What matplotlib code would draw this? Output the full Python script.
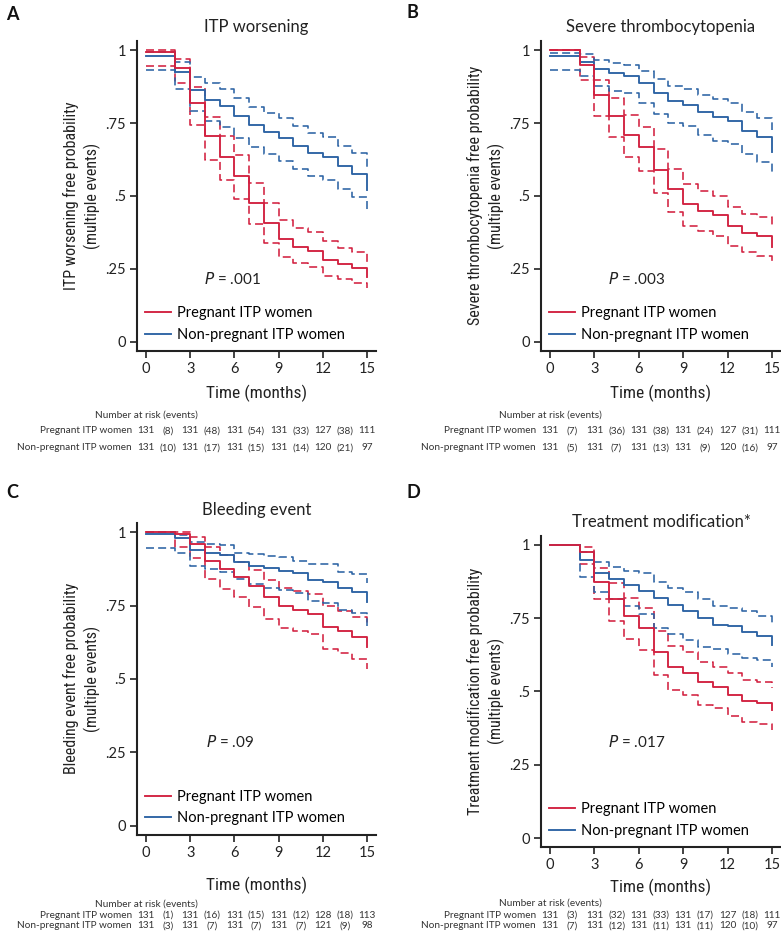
import matplotlib
matplotlib.use("Agg")
import matplotlib.pyplot as plt
import matplotlib.font_manager as fm
from matplotlib.transforms import blended_transform_factory
from matplotlib.lines import Line2D

# ---------------- data ----------------
times = [0, 2, 3, 4, 5, 6, 7, 8, 9, 10, 11, 12, 13, 14, 15]
x_ticks = [0, 3, 6, 9, 12, 15]
y_ticks = [0, 0.25, 0.5, 0.75, 1]
y_tick_labels = ["0", ".25", ".5", ".75", "1"]
groups = ["Pregnant ITP women", "Non-pregnant ITP women"]

# Panel A: ITP worsening
a_preg = [0.993, 0.94, 0.82, 0.705, 0.635, 0.568, 0.475, 0.407, 0.354, 0.326, 0.313, 0.281, 0.267, 0.252, 0.223]
a_preg_hi = [1.0, 0.97, 0.872, 0.772, 0.705, 0.64, 0.546, 0.475, 0.418, 0.389, 0.376, 0.347, 0.321, 0.307, 0.275]
a_preg_lo = [0.946, 0.886, 0.743, 0.623, 0.555, 0.489, 0.403, 0.338, 0.292, 0.269, 0.258, 0.227, 0.215, 0.203, 0.184]
a_non = [0.979, 0.926, 0.863, 0.829, 0.808, 0.774, 0.743, 0.72, 0.70, 0.672, 0.646, 0.635, 0.604, 0.575, 0.521]
a_non_hi = [0.995, 0.96, 0.909, 0.886, 0.865, 0.834, 0.806, 0.785, 0.766, 0.74, 0.717, 0.703, 0.672, 0.648, 0.595]
a_non_lo = [0.932, 0.865, 0.792, 0.758, 0.737, 0.698, 0.669, 0.644, 0.621, 0.591, 0.568, 0.555, 0.523, 0.496, 0.443]
a_risk_preg = ["131", "(8)", "131", "(48)", "131", "(54)", "131", "(33)", "127", "(38)", "111"]
a_risk_non = ["131", "(10)", "131", "(17)", "131", "(15)", "131", "(14)", "120", "(21)", "97"]

# Panel B: Severe thrombocytopenia
b_preg = [1.0, 0.949, 0.846, 0.774, 0.709, 0.667, 0.589, 0.523, 0.473, 0.45, 0.435, 0.397, 0.374, 0.363, 0.326]
b_preg_hi = [1.0, 0.975, 0.897, 0.834, 0.777, 0.735, 0.661, 0.592, 0.541, 0.518, 0.501, 0.463, 0.438, 0.427, 0.389]
b_preg_lo = [1.0, 0.897, 0.775, 0.701, 0.633, 0.587, 0.511, 0.446, 0.398, 0.381, 0.364, 0.33, 0.307, 0.296, 0.264]
b_non = [0.979, 0.96, 0.935, 0.922, 0.912, 0.886, 0.852, 0.826, 0.812, 0.789, 0.769, 0.758, 0.724, 0.701, 0.652]
b_non_hi = [0.991, 0.986, 0.966, 0.957, 0.949, 0.929, 0.9, 0.877, 0.865, 0.845, 0.831, 0.82, 0.789, 0.766, 0.726]
b_non_lo = [0.932, 0.911, 0.877, 0.861, 0.852, 0.82, 0.781, 0.751, 0.74, 0.709, 0.688, 0.678, 0.644, 0.617, 0.572]
b_risk_preg = ["131", "(7)", "131", "(36)", "131", "(38)", "131", "(24)", "127", "(31)", "111"]
b_risk_non = ["131", "(5)", "131", "(7)", "131", "(13)", "131", "(9)", "120", "(16)", "97"]

# Panel C: Bleeding event
c_preg = [1.0, 0.995, 0.961, 0.903, 0.874, 0.848, 0.818, 0.778, 0.747, 0.736, 0.723, 0.676, 0.665, 0.642, 0.609]
c_preg_hi = [1.0, 1.0, 0.985, 0.951, 0.923, 0.898, 0.872, 0.837, 0.809, 0.801, 0.79, 0.749, 0.733, 0.712, 0.68]
c_preg_lo = [1.0, 0.95, 0.911, 0.841, 0.807, 0.781, 0.744, 0.705, 0.673, 0.664, 0.652, 0.601, 0.588, 0.567, 0.533]
c_non = [0.993, 0.98, 0.94, 0.931, 0.923, 0.898, 0.885, 0.877, 0.869, 0.86, 0.838, 0.832, 0.809, 0.798, 0.764]
c_non_hi = [1.0, 0.99, 0.968, 0.96, 0.957, 0.931, 0.925, 0.92, 0.917, 0.903, 0.891, 0.891, 0.864, 0.858, 0.828]
c_non_lo = [0.948, 0.931, 0.885, 0.874, 0.866, 0.84, 0.824, 0.811, 0.803, 0.792, 0.766, 0.758, 0.735, 0.724, 0.681]
c_risk_preg = ["131", "(1)", "131", "(16)", "131", "(15)", "131", "(12)", "128", "(18)", "113"]
c_risk_non = ["131", "(3)", "131", "(7)", "131", "(7)", "131", "(7)", "121", "(9)", "98"]

# Panel D: Treatment modification
d_preg = [1.0, 0.977, 0.875, 0.815, 0.757, 0.716, 0.635, 0.582, 0.564, 0.532, 0.515, 0.489, 0.467, 0.462, 0.436]
d_preg_hi = [1.0, 0.993, 0.923, 0.869, 0.82, 0.786, 0.705, 0.656, 0.636, 0.602, 0.582, 0.562, 0.54, 0.534, 0.513]
d_preg_lo = [1.0, 0.934, 0.815, 0.739, 0.68, 0.64, 0.557, 0.506, 0.489, 0.455, 0.443, 0.417, 0.396, 0.39, 0.37]
d_non = [1.0, 0.948, 0.903, 0.883, 0.862, 0.843, 0.818, 0.795, 0.774, 0.751, 0.727, 0.722, 0.704, 0.69, 0.659]
d_non_hi = [1.0, 0.977, 0.943, 0.926, 0.911, 0.903, 0.875, 0.852, 0.841, 0.815, 0.792, 0.786, 0.773, 0.756, 0.731]
d_non_lo = [1.0, 0.892, 0.839, 0.816, 0.793, 0.765, 0.716, 0.697, 0.676, 0.651, 0.645, 0.627, 0.615, 0.607, 0.585]
d_risk_preg = ["131", "(3)", "131", "(32)", "131", "(33)", "131", "(17)", "127", "(18)", "111"]
d_risk_non = ["131", "(7)", "131", "(12)", "131", "(11)", "131", "(11)", "120", "(10)", "97"]

risk_x = [0, 1.5, 3, 4.5, 6, 7.5, 9, 10.5, 12, 13.5, 15]

# ---------------- style ----------------
names = {f.name for f in fm.fontManager.ttflist}
MAIN = "Lato" if "Lato" in names else "DejaVu Sans"
NARROW = MAIN
for cand in ["Liberation Sans Narrow", "Roboto Condensed", "Open Sans Condensed", "DejaVu Sans Condensed"]:
    if cand in names:
        NARROW = cand
        break
plt.rcParams["font.family"] = [MAIN, "DejaVu Sans"]

RED = "#d22140"
BLUE = "#2c63a4"
LW = 1.15
DASH = (0, (5.0, 2.6))

W, H = 781, 936
fig = plt.figure(figsize=(W / 100, H / 100), dpi=100)


def rect(left_px, top_px, right_px, bottom_px):
    return [left_px / W, 1 - bottom_px / H, (right_px - left_px) / W, (bottom_px - top_px) / H]


def panel(r, letter, letter_xy, title, ylabel, curves, ptext, pxy, risk, risk_y, xlabelpad=6):
    ax = fig.add_axes(r)
    ax.set_xlim(-0.61, 15.61)
    ax.set_ylim(-0.031, 1.032)
    (p, ph, pl, n, nh, nl) = curves
    ax.step(times, ph, where="post", color=RED, lw=LW, linestyle=DASH)
    ax.step(times, pl, where="post", color=RED, lw=LW, linestyle=DASH)
    ax.step(times, nh, where="post", color=BLUE, lw=LW, linestyle=DASH)
    ax.step(times, nl, where="post", color=BLUE, lw=LW, linestyle=DASH)
    ax.step(times, n, where="post", color=BLUE, lw=LW + 0.2)
    ax.step(times, p, where="post", color=RED, lw=LW + 0.2)

    for s in ["top", "right"]:
        ax.spines[s].set_visible(False)
    for s in ["left", "bottom"]:
        ax.spines[s].set_linewidth(1.5)
        ax.spines[s].set_color("#222222")
    ax.set_xticks(x_ticks)
    ax.set_yticks(y_ticks)
    ax.set_yticklabels(y_tick_labels)
    ax.tick_params(direction="out", length=5, width=1.2, color="#222222",
                   labelsize=10.5, pad=3, labelcolor="#222222")
    ax.set_title(title, fontsize=12, pad=6, color="#222222")
    ax.set_ylabel(ylabel, fontsize=11.5, family=[NARROW, "DejaVu Sans"],
                  linespacing=1.3, color="#222222", ha="center")
    ax.yaxis.set_label_coords(-0.152, 0.5)
    ax.set_xlabel("Time (months)", fontsize=12.5, family=[NARROW, "DejaVu Sans"],
                  labelpad=xlabelpad, color="#222222")

    ax.text(pxy[0], pxy[1], "$\\mathit{P}$ = " + ptext, fontsize=11, ha="center",
            va="center", color="#222222")
    handles = [Line2D([], [], color=RED, lw=LW + 0.2), Line2D([], [], color=BLUE, lw=LW + 0.2)]
    ax.legend(handles, groups, loc="lower left", bbox_to_anchor=(0.035, 0.03),
              frameon=False, fontsize=10.5, handlelength=1.75, handletextpad=0.45,
              labelspacing=0.5, borderpad=0, borderaxespad=0)

    fig.text(letter_xy[0] / W, 1 - letter_xy[1] / H, letter, fontsize=13,
             fontweight="bold", va="center", ha="left", color="#111111")

    tr = blended_transform_factory(ax.transData, fig.transFigure)
    y0, y1, y2 = [1 - v / H for v in risk_y]
    ax.text(0, y0, "Number at risk (events)", transform=tr, fontsize=7.2,
            ha="center", va="center", color="#333333")
    for row, yy, lab in [(risk[0], y1, groups[0]), (risk[1], y2, groups[1])]:
        ax.text(-0.95, yy, lab, transform=tr, fontsize=7.2, ha="right",
                va="center", color="#333333")
        for xv, txt in zip(risk_x, row):
            ax.text(xv, yy, txt, transform=tr, fontsize=7.2, ha="center",
                    va="center", color="#333333")
    return ax


panel(rect(137, 40.7, 376, 351), "A", (6, 14), "ITP worsening",
      "ITP worsening free probability\n(multiple events)",
      (a_preg, a_preg_hi, a_preg_lo, a_non, a_non_hi, a_non_lo),
      ".001", (5.9, 0.216), (a_risk_preg, a_risk_non), (415, 431, 447.7))

panel(rect(541, 40.7, 781, 351), "B", (406, 13), "Severe thrombocytopenia",
      "Severe thrombocytopenia free probability\n(multiple events)",
      (b_preg, b_preg_hi, b_preg_lo, b_non, b_non_hi, b_non_lo),
      ".003", (5.85, 0.216), (b_risk_preg, b_risk_non), (415, 431, 447.7))

panel(rect(137, 522.9, 376, 834.7), "C", (6, 493), "Bleeding event",
      "Bleeding event free probability\n(multiple events)",
      (c_preg, c_preg_hi, c_preg_lo, c_non, c_non_hi, c_non_lo),
      ".09", (5.7, 0.284), (c_risk_preg, c_risk_non), (904.3, 915, 926),
      xlabelpad=12)

panel(rect(541, 535.6, 781, 847.1), "D", (406, 492), "Treatment modification*",
      "Treatment modification free probability\n(multiple events)",
      (d_preg, d_preg_hi, d_preg_lo, d_non, d_non_hi, d_non_lo),
      ".017", (5.85, 0.327), (d_risk_preg, d_risk_non), (903, 915, 926),
      xlabelpad=5)

fig.savefig("out.png", dpi=100, facecolor="white")
